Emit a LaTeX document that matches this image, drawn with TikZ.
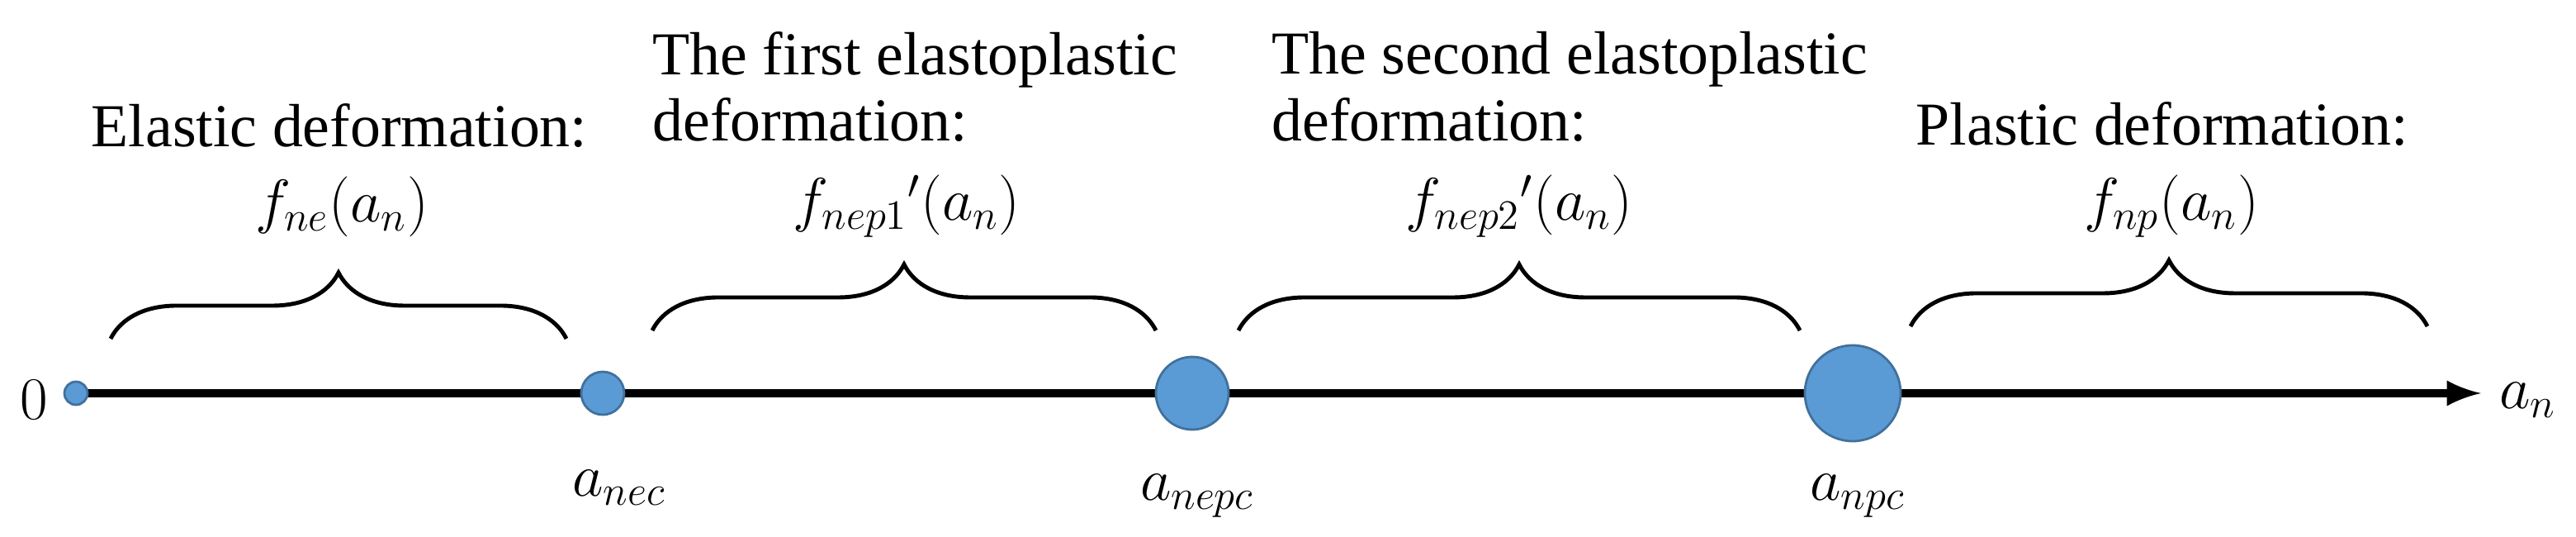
\documentclass[tikz,border=0pt]{standalone}
\usepackage{fontspec}
\setmainfont{Liberation Serif}
\usetikzlibrary{decorations.pathreplacing}
\definecolor{dotblue}{HTML}{5B9BD5}
\definecolor{dotedge}{HTML}{41719C}
\begin{document}
\begin{tikzpicture}[font=\fontsize{21}{25}\selectfont,
    dot/.style={circle, fill=dotblue, draw=dotedge, line width=0.8pt, inner sep=0pt},
    curly/.style={decorate, decoration={brace, amplitude=0.8cm, aspect=0.5}, line width=1.4pt},
    txt/.style={anchor=west, inner sep=0pt}]
    \useasboundingbox (0,0) rectangle (31.2,6.5);
    % axis
    \coordinate (start) at (0.94,1.74);
    \coordinate (tip) at (30.05,1.74);
    \draw[line width=3pt, -latex] (start) -- (tip);
    \node[anchor=east] (zero) at (0.7,1.66) {$0$};
    \node[anchor=west] (an) at (30.15,1.66) {$a_n$};
    % critical points
    \node[dot, minimum size=0.28cm] (p0) at (0.92,1.74) {};
    \node[dot, minimum size=0.52cm] (nec) at (7.3,1.74) {};
    \node[dot, minimum size=0.88cm] (nepc) at (14.44,1.74) {};
    \node[dot, minimum size=1.16cm] (npc) at (22.44,1.74) {};
    \node (lnec) at (7.5,0.6) {$a_{nec}$};
    \node (lnepc) at (14.5,0.5) {$a_{nepc}$};
    \node (lnpc) at (22.5,0.5) {$a_{npc}$};
    % braces
    \draw[curly] (1.34,2.4) -- (6.86,2.4);
    \draw[curly] (7.9,2.5) -- (14.0,2.5);
    \draw[curly] (15.0,2.5) -- (21.8,2.5);
    \draw[curly] (23.14,2.55) -- (29.4,2.55);
    % formulas
    \node (fne) at (4.14,4.0) {$f_{ne}(a_n)$};
    \node (fnep1) at (10.98,4.0) {$f_{nep1}{}'(a_n)$};
    \node (fnep2) at (18.4,4.0) {$f_{nep2}{}'(a_n)$};
    \node (fnp) at (26.3,4.0) {$f_{np}(a_n)$};
    % stage names
    \node[txt] (elastic) at (1.1,4.98) {Elastic deformation:};
    \node[txt] (first) at (7.9,5.78) {The first elastoplastic};
    \node[txt] (first2) at (7.9,5.05) {deformation:};
    \node[txt] (second) at (15.4,5.78) {The second elastoplastic};
    \node[txt] (second2) at (15.4,5.05) {deformation:};
    \node[txt] (plastic) at (23.2,5.0) {Plastic deformation:};
\end{tikzpicture}
\end{document}
